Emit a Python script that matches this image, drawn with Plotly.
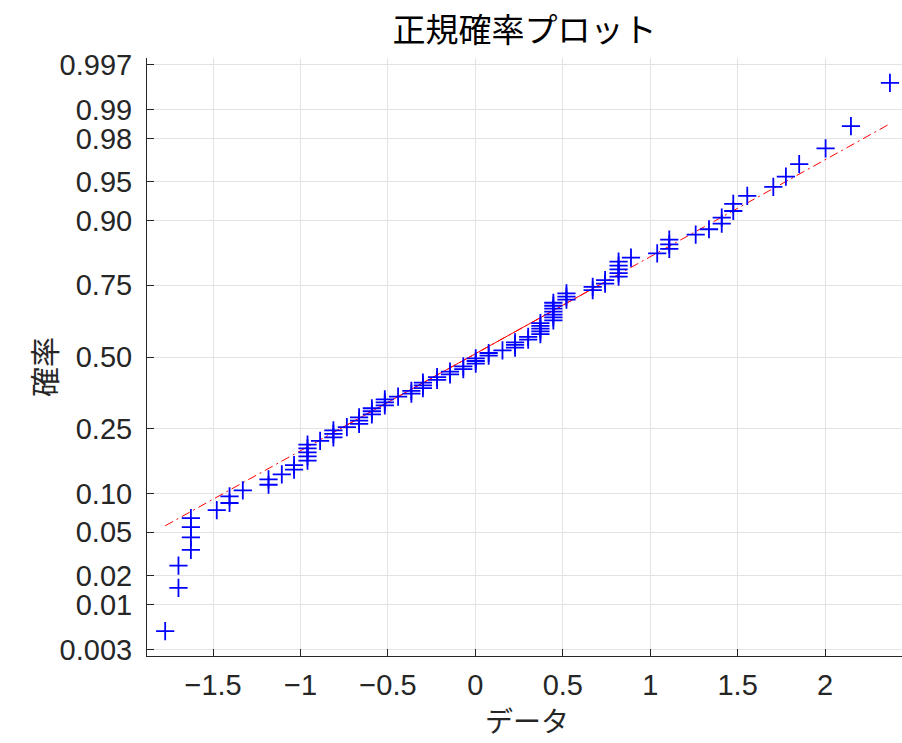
from statistics import NormalDist
import plotly.graph_objects as go

# Sample values (sorted), 100 observations
data_values = [
    -1.774,
    -1.698, -1.698,
    -1.627, -1.627, -1.627, -1.627,
    -1.479,
    -1.406, -1.406,
    -1.330,
    -1.183, -1.183,
    -1.107,
    -1.037, -1.037,
    -0.960, -0.960, -0.960, -0.960, -0.960,
    -0.888,
    -0.812, -0.812, -0.812,
    -0.735,
    -0.665, -0.665, -0.665,
    -0.592, -0.592, -0.592,
    -0.518, -0.518, -0.518,
    -0.442,
    -0.366, -0.366,
    -0.300, -0.300, -0.300,
    -0.219, -0.219,
    -0.145, -0.145,
    -0.069, -0.069,
    0.002, 0.002, 0.002,
    0.076, 0.076,
    0.155,
    0.227, 0.227, 0.227,
    0.302, 0.302,
    0.372, 0.372, 0.372, 0.372, 0.372,
    0.446, 0.446, 0.446, 0.446, 0.446, 0.446, 0.446,
    0.521, 0.521, 0.521,
    0.671, 0.671,
    0.742, 0.742,
    0.819, 0.819, 0.819, 0.819, 0.819,
    0.890,
    1.040,
    1.109, 1.109, 1.109,
    1.260,
    1.336,
    1.409, 1.409,
    1.475, 1.475,
    1.555,
    1.704,
    1.776,
    1.852,
    2.003,
    2.148,
    2.371,
]

prob_ticks = [0.003, 0.01, 0.02, 0.05, 0.10, 0.25, 0.50, 0.75, 0.90, 0.95, 0.98, 0.99, 0.997]
prob_labels = ["0.003", "0.01", "0.02", "0.05", "0.10", "0.25", "0.50",
               "0.75", "0.90", "0.95", "0.98", "0.99", "0.997"]
x_ticks = [-1.5, -1, -0.5, 0, 0.5, 1, 1.5, 2]
x_tick_labels = ["\u22121.5", "\u22121", "\u22120.5", "0", "0.5", "1", "1.5", "2"]

nd = NormalDist()
xs = sorted(data_values)
n = len(xs)
# plotting positions (i - 0.5) / n mapped onto the normal quantile scale
zs = [nd.inv_cdf((i + 0.5) / n) for i in range(n)]


def prctile(sorted_vals, p):
    pos = p * len(sorted_vals) + 0.5  # 1-based position
    lo = int(pos)
    frac = pos - lo
    lo = min(max(lo, 1), len(sorted_vals))
    hi = min(lo + 1, len(sorted_vals))
    return sorted_vals[lo - 1] + frac * (sorted_vals[hi - 1] - sorted_vals[lo - 1])


q1, q3 = prctile(xs, 0.25), prctile(xs, 0.75)
z1, z3 = nd.inv_cdf(0.25), nd.inv_cdf(0.75)
slope = (z3 - z1) / (q3 - q1)


def ref_line(x):
    return z1 + slope * (x - q1)


axis_color = "#262626"
grid_color = "#e3e3e3"
num_font = "Liberation Sans"
cjk_font = "Noto Sans CJK JP"

fig = go.Figure()

# reference line: dash-dot over the data range, solid between quartiles
fig.add_trace(go.Scatter(
    x=[xs[0], xs[-1]], y=[ref_line(xs[0]), ref_line(xs[-1])],
    mode="lines", line=dict(color="#ff0000", width=1, dash="9px,4px,2px,4px"),
    hoverinfo="skip", showlegend=False))
fig.add_trace(go.Scatter(
    x=[q1, q3], y=[ref_line(q1), ref_line(q3)],
    mode="lines", line=dict(color="#ff0000", width=1),
    hoverinfo="skip", showlegend=False))

fig.add_trace(go.Scatter(
    x=xs, y=zs, mode="markers",
    marker=dict(symbol="cross-thin", size=13, color="#0000ff",
                line=dict(color="#0000ff", width=1.8)),
    showlegend=False))

fig.update_layout(
    width=902, height=743,
    margin=dict(l=147, r=0, t=58, b=87),
    paper_bgcolor="white", plot_bgcolor="white",
    title=dict(text="正規確率プロット", x=0.5, xref="paper",
               y=1 - 30 / 743, yref="container", yanchor="middle",
               font=dict(family=cjk_font, size=33, color="#000000")),
    xaxis=dict(
        range=[-1.878, 2.44], tickvals=x_ticks, ticktext=x_tick_labels,
        showgrid=True, gridcolor=grid_color, gridwidth=1, zeroline=False,
        showline=True, linecolor=axis_color, linewidth=1,
        ticks="inside", ticklen=7, tickcolor=axis_color,
        ticklabelstandoff=3,
        tickfont=dict(family=num_font, size=29, color=axis_color),
    ),
    yaxis=dict(
        range=[-2.81, 2.81],
        tickvals=[nd.inv_cdf(p) for p in prob_ticks], ticktext=prob_labels,
        showgrid=True, gridcolor=grid_color, gridwidth=1, zeroline=False,
        showline=True, linecolor=axis_color, linewidth=1,
        ticks="inside", ticklen=7, tickcolor=axis_color,
        ticklabelstandoff=8,
        tickfont=dict(family=num_font, size=29, color=axis_color),
    ),
    annotations=[
        dict(text="確率", textangle=-90, showarrow=False,
             xref="paper", yref="paper",
             x=(43 - 147) / 755, y=(656 - 367) / 598,
             xanchor="center", yanchor="middle", borderpad=0,
             font=dict(family=cjk_font, size=30, color=axis_color)),
        dict(text="データ", showarrow=False,
             xref="paper", yref="paper",
             x=(527 - 147) / 755, y=(656 - 741) / 598,
             xanchor="center", yanchor="bottom", borderpad=0,
             font=dict(family=cjk_font, size=28, color=axis_color)),
    ],
)

fig.write_html("out.html")
